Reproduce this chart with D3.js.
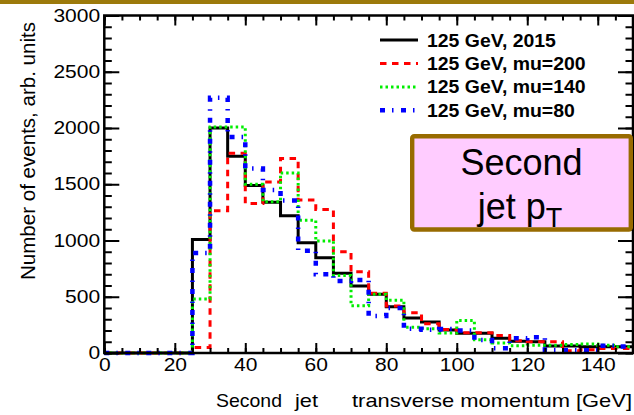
<!DOCTYPE html>
<html>
<head>
<meta charset="utf-8">
<script src="https://cdn.jsdelivr.net/npm/d3@7"></script>
<style>
  html, body { margin: 0; padding: 0; background: #ffffff; }
  svg { display: block; }
  text { font-family: "Liberation Sans", Arial, Helvetica, sans-serif; fill: #000; }
</style>
</head>
<body>
<svg id="chart" width="634" height="415"></svg>
<script>
// Histogram bin edges (GeV), 5 GeV wide bins
const binEdges = [0, 5, 10, 15, 20, 25, 30, 35, 40, 45, 50, 55, 60, 65, 70, 75,
                  80, 85, 90, 95, 100, 105, 110, 115, 120, 125, 130, 135, 140, 145, 150];

// Events per bin for each sample
const counts2015 = [0, 0, 0, 0, 0, 1010, 2000, 1750, 1490, 1340, 1220, 980, 847, 708, 595,
                    522, 412, 312, 275, 204, 175, 175, 131, 105, 100, 62, 62, 55, 55, 55];
const countsMu200 = [0, 0, 0, 0, 0, 50, 1265, 1775, 1330, 1520, 1730, 1360, 1275, 900, 723,
                     531, 418, 358, 260, 210, 181, 181, 155, 110, 100, 100, 20, 30, 40, 40];
const countsMu140 = [0, 0, 0, 0, 0, 480, 2010, 2010, 1500, 1345, 1600, 1180, 995, 690, 420,
                     522, 470, 230, 215, 178, 290, 118, 90, 65, 70, 70, 75, 80, 70, 55];
const countsMu80 = [0, 0, 0, 0, 0, 890, 2270, 1920, 1640, 1450, 1355, 910, 700, 640, 650,
                    330, 400, 215, 207, 213, 200, 115, 42, 132, 140, 25, 25, 25, 65, 58];

const seriesLabels = ["125 GeV, 2015", "125 GeV, mu=200", "125 GeV, mu=140", "125 GeV, mu=80"];
const xTickLabels = [0, 20, 40, 60, 80, 100, 120, 140];
const yTickLabels = [0, 500, 1000, 1500, 2000, 2500, 3000];

const seriesStyles = [
  { color: "#000000", width: 3,   dash: null },
  { color: "#ff0000", width: 3,   dash: "6.5,5.5" },
  { color: "#00ee00", width: 3,   dash: "2.5,3" },
  { color: "#0000ff", width: 4.5, dash: "5,7,1.5,7.5" }
];
const seriesData = [counts2015, countsMu200, countsMu140, countsMu80];

const svg = d3.select("#chart");
const W = 634, H = 415;
const frame = { left: 104.3, right: 633, top: 15.5, bottom: 353 };

const x = d3.scaleLinear().domain([0, 150]).range([frame.left, frame.right]);
const y = d3.scaleLinear().domain([0, 3000]).range([frame.bottom, frame.top]);

// slide header bar
svg.append("rect").attr("x", 0).attr("y", 0).attr("width", W).attr("height", 4)
  .attr("fill", "#9c7a0b");

// histograms as step outlines
const stepLine = d3.line()
  .x(d => x(d[0]))
  .y(d => y(d[1]))
  .curve(d3.curveStepAfter);

const plot = svg.append("g");
seriesData.forEach((vals, k) => {
  const pts = binEdges.map((e, i) => [e, vals[Math.min(i, vals.length - 1)]]);
  const st = seriesStyles[k];
  plot.append("path")
    .attr("d", stepLine(pts))
    .attr("fill", "none")
    .attr("stroke", st.color)
    .attr("stroke-width", st.width)
    .attr("stroke-dasharray", st.dash)
    .attr("stroke-linejoin", "miter");
});

// axes with inward ticks on all four sides
function styleAxis(g) {
  g.select(".domain").remove();
  g.selectAll(".tick line").attr("stroke", "#000").attr("stroke-width", 2);
}
const minorX = d3.range(0, 151, 5);
const minorY = d3.range(0, 3001, 100);

const gBottom = svg.append("g").attr("transform", `translate(0,${frame.bottom})`)
  .call(d3.axisBottom(x).tickValues(xTickLabels).tickSize(-10).tickPadding(6).tickFormat(d3.format("d")));
styleAxis(gBottom);
gBottom.selectAll("text").attr("font-size", 17.5).attr("transform", "scale(1.2,1)")
  .style("font-family", "'Liberation Sans', Arial, sans-serif");
svg.append("g").attr("transform", `translate(0,${frame.bottom})`)
  .call(d3.axisBottom(x).tickValues(minorX).tickSize(-5).tickFormat("")).call(styleAxis);

svg.append("g").attr("transform", `translate(0,${frame.top})`)
  .call(d3.axisTop(x).tickValues(xTickLabels).tickSize(-10).tickFormat("")).call(styleAxis);
svg.append("g").attr("transform", `translate(0,${frame.top})`)
  .call(d3.axisTop(x).tickValues(minorX).tickSize(-5).tickFormat("")).call(styleAxis);

const gLeft = svg.append("g").attr("transform", `translate(${frame.left},0)`)
  .call(d3.axisLeft(y).tickValues(yTickLabels).tickSize(-15).tickPadding(3.5).tickFormat(d3.format("d")));
styleAxis(gLeft);
gLeft.selectAll("text").attr("font-size", 17.5).attr("transform", "scale(1.2,1)")
  .style("font-family", "'Liberation Sans', Arial, sans-serif");
svg.append("g").attr("transform", `translate(${frame.left},0)`)
  .call(d3.axisLeft(y).tickValues(minorY).tickSize(-7.5).tickFormat("")).call(styleAxis);

svg.append("g").attr("transform", `translate(${frame.right},0)`)
  .call(d3.axisRight(y).tickValues(yTickLabels).tickSize(-15).tickFormat("")).call(styleAxis);
svg.append("g").attr("transform", `translate(${frame.right},0)`)
  .call(d3.axisRight(y).tickValues(minorY).tickSize(-7.5).tickFormat("")).call(styleAxis);

// frame
svg.append("rect")
  .attr("x", frame.left).attr("y", frame.top)
  .attr("width", frame.right - frame.left).attr("height", frame.bottom - frame.top)
  .attr("fill", "none").attr("stroke", "#000").attr("stroke-width", 2.5);

// axis titles
svg.append("text")
  .attr("transform", "translate(35,151) rotate(-90)")
  .attr("text-anchor", "middle")
  .attr("font-size", 20)
  .attr("textLength", 258)
  .attr("lengthAdjust", "spacingAndGlyphs")
  .text("Number of events, arb. units");

// x title: three word groups placed apart
const xTitle = svg.append("text").attr("y", 407).attr("font-size", 19);
[["Second", 216, 66], ["jet", 295, 23], ["transverse momentum [GeV]", 352, 280]]
  .forEach(([t, px, len]) => {
    xTitle.append("tspan").attr("x", px)
      .attr("textLength", len).attr("lengthAdjust", "spacingAndGlyphs")
      .text(t);
  });

// legend
const legend = svg.append("g");
const rowBase = [46.5, 70, 93.4, 116.8];
seriesLabels.forEach((lab, k) => {
  const st = seriesStyles[k];
  const cy = rowBase[k] - 6.5;
  legend.append("line")
    .attr("x1", 380).attr("x2", 418).attr("y1", cy).attr("y2", cy)
    .attr("stroke", st.color).attr("stroke-width", st.width)
    .attr("stroke-dasharray", st.dash);
  legend.append("text")
    .attr("transform", `translate(427,${rowBase[k]}) scale(1.08,1)`)
    .attr("font-size", 18).attr("font-weight", "bold")
    .text(lab);
});

// annotation box
const box = svg.append("g");
box.append("rect")
  .attr("x", 412.2).attr("y", 136.2).attr("width", 218.6).attr("height", 93.3)
  .attr("rx", 2)
  .attr("fill", "#ffccff").attr("stroke", "#986b00").attr("stroke-width", 4.4);
box.append("text").attr("x", 521.5).attr("y", 175).attr("text-anchor", "middle")
  .attr("font-size", 36).text("Second");
const line2 = box.append("text").attr("x", 520).attr("y", 219).attr("text-anchor", "middle")
  .attr("font-size", 36);
line2.append("tspan").text("jet p");
line2.append("tspan").attr("font-size", 27).attr("dy", 8).text("T");
</script>
</body>
</html>
